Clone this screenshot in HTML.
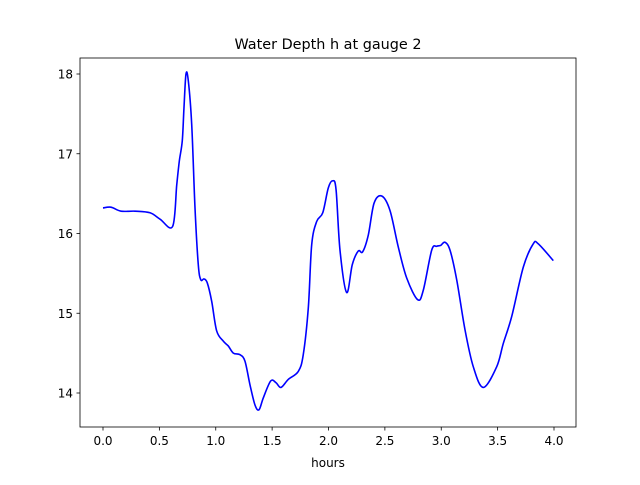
<!DOCTYPE html>
<html><head><meta charset="utf-8"><style>
body{margin:0;background:#fff}
svg text{font-family:"DejaVu Sans","Liberation Sans",sans-serif;fill:#000}
</style></head><body>
<svg width="640" height="480" id="c">
<rect x="0" y="0" width="640" height="480" fill="#fff"/>
<text x="328" y="49" font-size="14.4" text-anchor="middle">Water Depth h at gauge 2</text>
<text x="328" y="467" font-size="12" text-anchor="middle">hours</text>
<g id="ticks"></g>
<path id="line" fill="none" stroke="#0000ff" stroke-width="1.6" stroke-linejoin="round"/>
<rect x="80" y="58" width="496" height="369" fill="none" stroke="#000" stroke-width="0.8"/>
</svg>
<script>
const times=[0,0.071,0.16,0.284,0.417,0.506,0.618,0.654,0.677,0.703,0.718,0.736,0.757,0.787,0.816,0.845,0.867,0.896,0.925,0.964,1.008,1.067,1.111,1.156,1.215,1.259,1.304,1.348,1.384,1.422,1.487,1.534,1.579,1.643,1.732,1.776,1.821,1.851,1.895,1.949,1.998,2.037,2.067,2.102,2.161,2.211,2.264,2.303,2.353,2.404,2.472,2.545,2.619,2.694,2.791,2.841,2.915,2.96,2.995,3.033,3.078,3.137,3.211,3.284,3.373,3.492,3.55,3.625,3.728,3.816,3.861,3.994];
const depths=[16.32,16.33,16.28,16.28,16.26,16.18,16.09,16.61,16.91,17.16,17.57,18.0,17.91,17.36,16.32,15.61,15.42,15.43,15.38,15.15,14.78,14.65,14.59,14.5,14.48,14.4,14.1,13.85,13.79,13.94,14.15,14.13,14.07,14.17,14.27,14.48,15.07,15.86,16.15,16.26,16.57,16.66,16.55,15.79,15.26,15.61,15.78,15.77,15.98,16.38,16.47,16.29,15.83,15.44,15.17,15.29,15.79,15.84,15.85,15.89,15.79,15.42,14.79,14.33,14.07,14.33,14.62,14.96,15.58,15.87,15.87,15.66];
const xTicks=["0.0","0.5","1.0","1.5","2.0","2.5","3.0","3.5","4.0"];
const yTicks=["14","15","16","17","18"];
const X=t=>103+t*112.75, Y=h=>74+(18-h)*79.75;
const NS="http://www.w3.org/2000/svg";
const g=document.getElementById('ticks');
xTicks.forEach(s=>{const v=parseFloat(s),x=X(v);
const l=document.createElementNS(NS,'line');l.setAttribute('x1',x);l.setAttribute('x2',x);l.setAttribute('y1',427);l.setAttribute('y2',430.5);l.setAttribute('stroke','#000');l.setAttribute('stroke-width','0.8');

g.appendChild(l);
const t=document.createElementNS(NS,'text');t.setAttribute('x',x);t.setAttribute('y',445);t.setAttribute('font-size','12');t.setAttribute('text-anchor','middle');t.textContent=s;

g.appendChild(t);});
yTicks.forEach(s=>{const v=parseFloat(s),y=Y(v);
const l=document.createElementNS(NS,'line');l.setAttribute('x1',76.5);l.setAttribute('x2',80);l.setAttribute('y1',y);l.setAttribute('y2',y);l.setAttribute('stroke','#000');l.setAttribute('stroke-width','0.8');

g.appendChild(l);
const t=document.createElementNS(NS,'text');t.setAttribute('x',73);t.setAttribute('y',y+4.5);t.setAttribute('font-size','12');t.setAttribute('text-anchor','end');t.textContent=s;

g.appendChild(t);});
// Catmull-Rom smooth path
const pts=times.map((t,i)=>[X(t),Y(depths[i])]);
let d='M'+pts[0][0]+','+pts[0][1];
for(let i=0;i<pts.length-1;i++){const p0=pts[Math.max(0,i-1)],p1=pts[i],p2=pts[i+1],p3=pts[Math.min(pts.length-1,i+2)];
const c1=[p1[0]+(p2[0]-p0[0])/6,p1[1]+(p2[1]-p0[1])/6],c2=[p2[0]-(p3[0]-p1[0])/6,p2[1]-(p3[1]-p1[1])/6];
d+=' C'+c1+' '+c2+' '+p2;}
document.getElementById('line').setAttribute('d',d);
</script>
</body></html>
